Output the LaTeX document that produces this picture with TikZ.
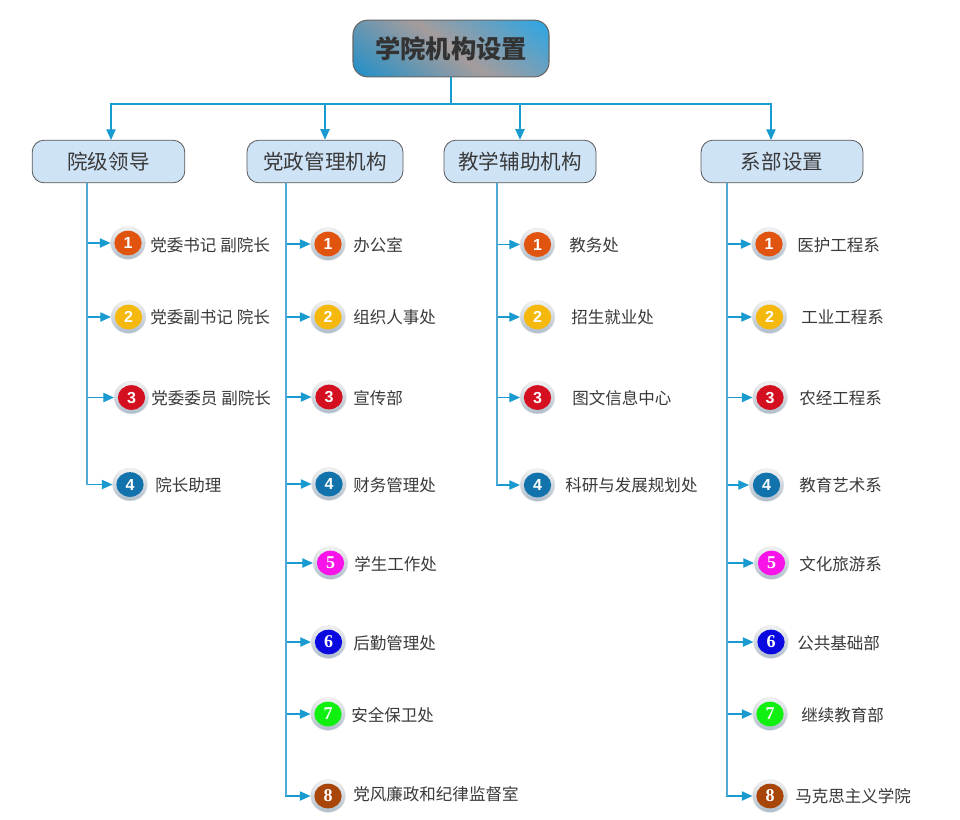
\documentclass[tikz,border=0pt]{standalone}
\usepackage{fontspec}
\setmainfont{Noto Sans CJK SC}
\newfontfamily\numfont{Liberation Serif}
\newfontfamily\numsans{Liberation Sans}
\usetikzlibrary{arrows.meta,shapes.geometric}
\definecolor{linec}{HTML}{1A9BD0}
\definecolor{trunkc}{HTML}{4FAAD6}
\definecolor{txtc}{HTML}{3A3A3A}
\definecolor{HTMLa}{HTML}{1A8FCB}
\definecolor{HTMLb}{HTML}{A59C9C}
\definecolor{HTMLa2}{HTML}{26A6E8}
\definecolor{HTMLc}{HTML}{CFE3F6}
\definecolor{HTMLd}{HTML}{AEBDCB}
\definecolor{c1}{HTML}{E0540F}
\definecolor{c2}{HTML}{F5B80C}
\definecolor{c3}{HTML}{D40F1F}
\definecolor{c4}{HTML}{1272AC}
\definecolor{c5}{HTML}{F813E8}
\definecolor{c6}{HTML}{0A0AE0}
\definecolor{c7}{HTML}{10F010}
\definecolor{c8}{HTML}{A84508}
\pgfdeclarehorizontalshading{titlegrad}{160bp}{color(0bp)=(HTMLa); color(20bp)=(HTMLa); color(82bp)=(HTMLb); color(144bp)=(HTMLa2); color(164bp)=(HTMLa2)}
\tikzset{
  x=0.75pt,y=-0.75pt,
  titlebox/.style={draw=black!60,line width=0.8pt,rounded corners=11pt,minimum width=147pt,minimum height=42.5pt,
    inner sep=0pt,font=\fontsize{19}{19}\selectfont\bfseries,text=black!80,
    path picture={\node[rotate=53,inner sep=0pt] (titlefill) at (path picture bounding box.center) {\pgfuseshading{titlegrad}};}},
  headbox/.style={draw=black!65,line width=0.6pt,fill=HTMLc,rounded corners=9pt,minimum height=32pt,inner sep=0pt,
    font=\fontsize{15.4}{15.4}\selectfont,text=txtc},
  ring/.style={ellipse,minimum width=26pt,minimum height=24.5pt,inner sep=0pt,top color=white!95!black,bottom color=HTMLd,draw=black!12,line width=0.3pt},
  dot/.style={ellipse,minimum width=20.5pt,minimum height=18.5pt,inner sep=0pt,text=white},
  lbl/.style={anchor=west,inner sep=0pt,text=txtc,font=\fontsize{12.4}{12.4}\selectfont},
  conn/.style={draw=linec,line width=0.9pt,-{Triangle[length=8pt,width=7pt]}},
  trunk/.style={draw=trunkc,line width=1.5pt},
  stem/.style={draw=linec,line width=1.6pt},
}
% #1 column, #2 number, #3 badge x, #4 y, #5 label x, #6 label y, #7 text
\newcommand{\orgitem}[7]{%
  \node[ring] (r#1#2) at (#3,#4) {};
  \node[dot,fill=c#2,font=\ifnum#2<5 \numsans\fontsize{12}{12}\selectfont\bfseries\else\numfont\fontsize{13.5}{13.5}\selectfont\bfseries\fi] (d#1#2) at (r#1#2.center) {#2};
  \node[lbl] (t#1#2) at (#5,#6) {#7};
  \draw[conn] (s#1) |- (r#1#2);
}
\begin{document}
\begin{tikzpicture}
\useasboundingbox[fill=white] (0,0) rectangle (960,819);
% title and heads
\node[titlebox] (top) at (451,48.5) {学院机构设置};
\node[headbox,minimum width=114.5pt] (h1) at (108.5,161.5) {院级领导};
\node[headbox,minimum width=117pt] (h2) at (325,161.5) {党政管理机构};
\node[headbox,minimum width=114pt] (h3) at (520,161.5) {教学辅助机构};
\node[headbox,minimum width=121.5pt] (h4) at (782,161.5) {系部设置};
% bus
\coordinate (bus) at (451,104);
\coordinate (a1) at (111,140);
\coordinate (a4) at (771,140);
\draw[stem] (top.south) -- (bus);
\draw[conn] (bus) -| (a1);
\draw[conn] (bus) -| (h2.north);
\draw[conn] (bus) -| (h3.north);
\draw[conn] (bus) -| (a4);
% stems
\coordinate (s1) at (87,183);
\coordinate (s2) at (286,183);
\coordinate (s3) at (497,183);
\coordinate (s4) at (727,183);
% column 1
\orgitem{1}{1}{128}{243}{150}{245}{党委书记\kern3pt 副院长}
\orgitem{1}{2}{128.5}{317}{150}{317}{党委副书记\kern3pt 院长}
\orgitem{1}{3}{131.5}{397.5}{151}{398}{党委委员\kern3pt 副院长}
\orgitem{1}{4}{130}{484.5}{155}{485}{院长助理}
% column 2
\orgitem{2}{1}{328}{244}{353}{245}{办公室}
\orgitem{2}{2}{328}{317}{353}{317}{组织人事处}
\orgitem{2}{3}{329}{397}{353}{398}{宣传部}
\orgitem{2}{4}{329}{484}{353}{485}{财务管理处}
\orgitem{2}{5}{330.5}{563}{354}{564}{学生工作处}
\orgitem{2}{6}{328.5}{642}{353}{643}{后勤管理处}
\orgitem{2}{7}{328}{714}{351}{715}{安全保卫处}
\orgitem{2}{8}{328}{796}{353}{794}{党风廉政和纪律监督室}
% column 3
\orgitem{3}{1}{537.5}{244.5}{569}{245}{教务处}
\orgitem{3}{2}{537.5}{317}{571}{317}{招生就业处}
\orgitem{3}{3}{537.5}{397.5}{572}{398}{图文信息中心}
\orgitem{3}{4}{537.5}{485}{565}{485}{科研与发展规划处}
% column 4
\orgitem{4}{1}{769}{244}{797}{245}{医护工程系}
\orgitem{4}{2}{769.5}{317}{801}{317}{工业工程系}
\orgitem{4}{3}{770}{397.5}{799}{398}{农经工程系}
\orgitem{4}{4}{766.5}{485}{799}{485}{教育艺术系}
\orgitem{4}{5}{771.5}{563}{799}{564}{文化旅游系}
\orgitem{4}{6}{771}{642}{797}{643}{公共基础部}
\orgitem{4}{7}{770}{714}{801}{715}{继续教育部}
\orgitem{4}{8}{770}{796}{795}{796}{马克思主义学院}
% trunks
\draw[trunk] (s1) -- (s1 |- r14);
\draw[trunk] (s2) -- (s2 |- r28);
\draw[trunk] (s3) -- (s3 |- r34);
\draw[trunk] (s4) -- (s4 |- r48);
\end{tikzpicture}
\end{document}
